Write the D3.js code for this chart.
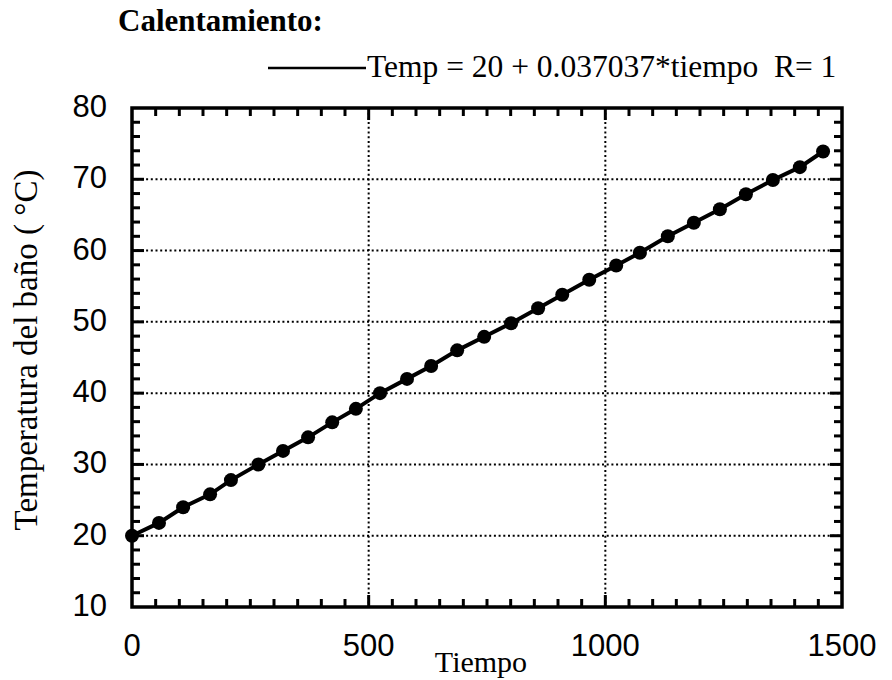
<!DOCTYPE html>
<html><head><meta charset="utf-8">
<script src="https://cdn.jsdelivr.net/npm/d3@7"></script>
<style>body{margin:0;background:#fff}svg{display:block}</style>
</head><body>
<script>
const tiempo = [0, 57, 108, 165, 209, 267, 319, 372, 423, 473, 524, 581, 632, 687, 744, 801, 858, 909, 966, 1023, 1073, 1132, 1187, 1242, 1297, 1354, 1411, 1460];
const temp = [20, 21.8, 24, 25.8, 27.8, 30, 31.9, 33.8, 35.9, 37.8, 40, 42, 43.8, 46, 47.9, 49.8, 51.9, 53.8, 55.9, 57.9, 59.7, 62, 63.9, 65.8, 67.9, 69.9, 71.7, 73.9];
const xTicks = [0, 500, 1000, 1500];
const yTicks = [10, 20, 30, 40, 50, 60, 70, 80];
const titleText = "Calentamiento:";
const legendText = "Temp = 20 + 0.037037*tiempo  R= 1";
const xLabel = "Tiempo";
const yLabel = "Temperatura del baño ( °C)";

const W = 892, H = 680;
const L = 132, R = 842, T = 108, B = 607;
const svg = d3.select("body").append("svg").attr("width", W).attr("height", H);
const x = d3.scaleLinear().domain([0, 1500]).range([L, R]);
const y = d3.scaleLinear().domain([10, 80]).range([B, T]);

// gridlines
const g = svg.append("g").attr("stroke", "#000").attr("stroke-width", 2).attr("stroke-dasharray", "2,2.7");
g.selectAll("line.h").data(yTicks.filter(v => v > 10 && v < 80)).join("line")
  .attr("x1", L).attr("x2", R).attr("y1", d => y(d)).attr("y2", d => y(d));
g.selectAll("line.v").data(xTicks.filter(v => v > 0 && v < 1500)).join("line")
  .attr("y1", T).attr("y2", B).attr("x1", d => x(d)).attr("x2", d => x(d));

// minor ticks
const tk = svg.append("g").attr("stroke", "#000").attr("stroke-width", 3);
const xMinor = d3.range(50, 1500, 50);
const yMinor = d3.range(12, 80, 2);
xMinor.forEach(v => {
  const len = v % 500 === 0 ? 12 : 8;
  tk.append("line").attr("x1", x(v)).attr("x2", x(v)).attr("y1", B).attr("y2", B - len);
  tk.append("line").attr("x1", x(v)).attr("x2", x(v)).attr("y1", T).attr("y2", T + len);
});
yMinor.forEach(v => {
  const len = v % 10 === 0 ? 12 : 8;
  tk.append("line").attr("y1", y(v)).attr("y2", y(v)).attr("x1", L).attr("x2", L + len);
  tk.append("line").attr("y1", y(v)).attr("y2", y(v)).attr("x1", R).attr("x2", R - len);
});

// frame
svg.append("rect").attr("x", L).attr("y", T).attr("width", R - L).attr("height", B - T)
  .attr("fill", "none").attr("stroke", "#000").attr("stroke-width", 3.5);

// tick labels
const sans = "'Liberation Sans', Arial, sans-serif";
const serif = "'Liberation Serif', 'Times New Roman', serif";
svg.append("g").selectAll("text").data(xTicks).join("text")
  .attr("x", d => x(d)).attr("y", 656).attr("text-anchor", "middle")
  .attr("font-family", sans).attr("font-size", 31).text(d => d);
svg.append("g").selectAll("text").data(yTicks).join("text")
  .attr("x", 107).attr("y", d => y(d) + 9).attr("text-anchor", "end")
  .attr("font-family", sans).attr("font-size", 31).text(d => d);

// line + points
const data = tiempo.map((t, i) => ({ t, v: temp[i] }));
svg.append("path").datum(data).attr("fill", "none").attr("stroke", "#000").attr("stroke-width", 4)
  .attr("d", d3.line().x(d => x(d.t)).y(d => y(d.v)));
svg.append("g").selectAll("circle").data(data).join("circle")
  .attr("cx", d => x(d.t)).attr("cy", d => y(d.v)).attr("r", 7).attr("fill", "#000");

// title
svg.append("text").attr("x", 118).attr("y", 31).attr("font-family", serif)
  .attr("font-weight", "bold").attr("font-size", 31).text(titleText);
// legend
svg.append("line").attr("x1", 268).attr("x2", 366).attr("y1", 68).attr("y2", 68)
  .attr("stroke", "#000").attr("stroke-width", 2.5);
svg.append("text").attr("x", 367).attr("y", 77).attr("font-family", serif)
  .attr("font-size", 31.5).style("white-space", "pre").text(legendText);
// axis titles
svg.append("text").attr("x", 481).attr("y", 672).attr("text-anchor", "middle")
  .attr("font-family", serif).attr("font-size", 30).text(xLabel);
svg.append("text").attr("transform", "translate(37,350) rotate(-90)").attr("text-anchor", "middle")
  .attr("font-family", serif).attr("font-size", 33).text(yLabel);
</script>
</body></html>
